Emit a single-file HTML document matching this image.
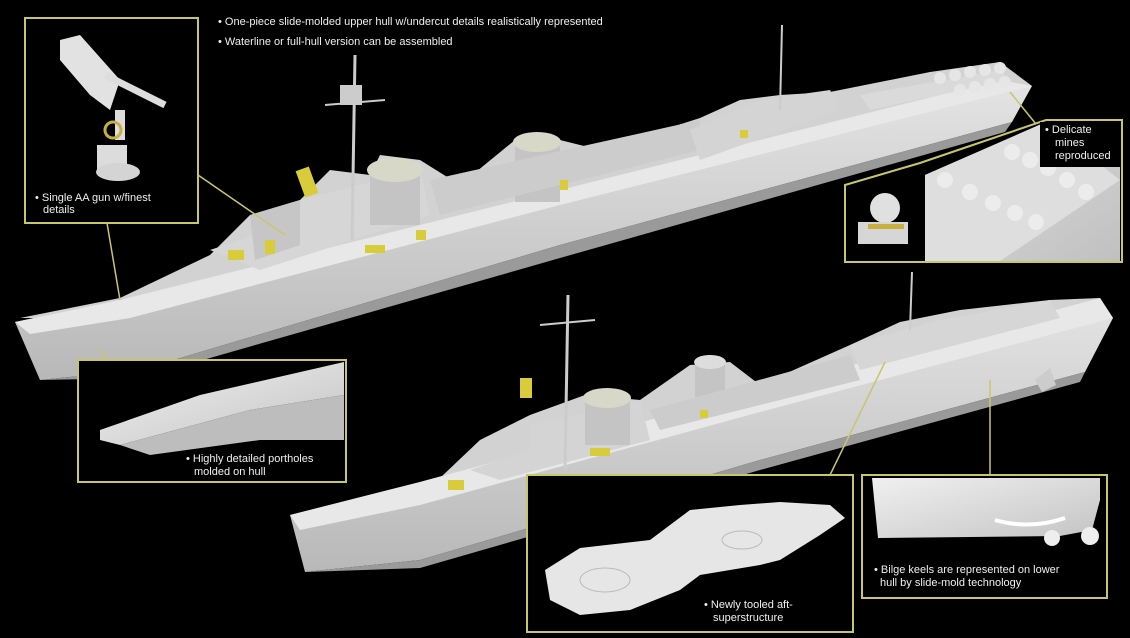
<!DOCTYPE html>
<html><head><meta charset="utf-8"><style>
html,body{margin:0;padding:0;background:#000;}
svg{display:block}
text{font-family:"Liberation Sans",sans-serif;fill:#f0f0f0;font-size:11px}
</style></head><body>
<svg width="1130" height="638" viewBox="0 0 1130 638" xmlns="http://www.w3.org/2000/svg">
<defs>
<linearGradient id="hull" x1="0" y1="0" x2="0" y2="1">
<stop offset="0" stop-color="#e4e4e4"/><stop offset="1" stop-color="#b8b8b8"/>
</linearGradient>
<linearGradient id="hull2" x1="0" y1="0" x2="1" y2="1">
<stop offset="0" stop-color="#f0f0f0"/><stop offset="1" stop-color="#c4c4c4"/>
</linearGradient>
<linearGradient id="deck" x1="0" y1="0" x2="1" y2="1">
<stop offset="0" stop-color="#e0e0e0"/><stop offset="1" stop-color="#c0c0c0"/>
</linearGradient>
</defs>
<rect width="1130" height="638" fill="#000"/>

<text x="218" y="25">• One-piece slide-molded upper hull w/undercut details realistically represented</text>
<text x="218" y="45">• Waterline or full-hull version can be assembled</text>

<!-- TOP SHIP -->
<g>
<polygon points="20,318 120,298 210,255 250,215 300,200 330,170 370,175 380,155 420,160 460,185 515,140 560,140 600,150 700,118 740,100 780,95 830,92 930,72 1000,62 1032,86 560,205 130,318" fill="#d2d2d2"/>
<polygon points="15,322 120,300 560,190 1000,80 1032,86 1012,122 560,245 140,370 40,380" fill="url(#hull)"/>
<polygon points="15,322 120,300 560,190 1000,80 1032,86 560,205 130,318 30,334" fill="#e8e8e8"/>
<polygon points="40,380 140,370 560,245 1012,122 1005,132 560,258 140,378" fill="#9a9a9a"/>
<polygon points="210,250 300,220 300,200 420,170 430,215 260,270" fill="#d6d6d6"/>
<polygon points="250,215 300,200 300,245 255,260" fill="#c6c6c6"/>
<rect x="370" y="165" width="50" height="60" fill="#c4c4c4"/>
<ellipse cx="395" cy="170" rx="28" ry="12" fill="#d8d8c8"/>
<rect x="515" y="140" width="45" height="62" fill="#c4c4c4"/>
<ellipse cx="537" cy="142" rx="24" ry="10" fill="#d8d8c8"/>
<polygon points="430,180 700,120 700,150 440,215" fill="#cccccc"/>
<polygon points="690,130 760,100 830,90 840,110 700,160" fill="#d4d4d4"/>
<polygon points="860,95 1000,70 1010,80 870,110" fill="#dadada"/>
<line x1="352" y1="240" x2="355" y2="55" stroke="#ccc" stroke-width="3"/>
<line x1="325" y1="105" x2="385" y2="100" stroke="#ccc" stroke-width="2"/>
<line x1="780" y1="110" x2="782" y2="25" stroke="#ccc" stroke-width="2"/>
<rect x="340" y="85" width="22" height="20" fill="#ccc"/>
<g fill="#d9cc3a">
<rect x="300" y="168" width="14" height="28" transform="rotate(-20 307 182)"/>
<rect x="228" y="250" width="16" height="10"/><rect x="265" y="240" width="10" height="14"/>
<rect x="365" y="245" width="20" height="8"/><rect x="416" y="230" width="10" height="10"/>
<rect x="560" y="180" width="8" height="10"/><rect x="740" y="130" width="8" height="8"/>
</g>
<g fill="#e6e6e6">
<circle cx="940" cy="78" r="6"/><circle cx="955" cy="75" r="6"/><circle cx="970" cy="72" r="6"/><circle cx="985" cy="70" r="6"/><circle cx="1000" cy="68" r="6"/>
<circle cx="960" cy="90" r="6"/><circle cx="975" cy="87" r="6"/><circle cx="990" cy="84" r="6"/><circle cx="1005" cy="82" r="6"/>
</g>
</g>

<!-- BOTTOM SHIP -->
<g>
<polygon points="295,515 440,478 480,440 530,415 585,395 640,400 690,365 730,362 760,385 850,345 900,322 960,310 1050,300 1100,298 1110,318 760,412 420,505" fill="#d2d2d2"/>
<polygon points="290,515 420,482 760,390 1100,298 1113,318 1085,372 760,460 420,560 305,572" fill="url(#hull)"/>
<polygon points="290,515 420,482 760,390 1100,298 1113,318 760,412 420,505 300,530" fill="#e8e8e8"/>
<polygon points="305,572 420,560 760,460 1085,372 1080,382 760,470 420,568" fill="#9a9a9a"/>
<polygon points="470,470 530,450 530,425 640,400 650,440 500,480" fill="#d4d4d4"/>
<rect x="585" y="395" width="45" height="50" fill="#c4c4c4"/>
<ellipse cx="607" cy="398" rx="24" ry="10" fill="#d8d8c8"/>
<rect x="695" y="360" width="30" height="45" fill="#c4c4c4"/>
<ellipse cx="710" cy="362" rx="16" ry="7" fill="#ddd"/>
<polygon points="650,410 850,355 860,380 660,430" fill="#cccccc"/>
<polygon points="850,345 940,320 1050,300 1060,318 860,370" fill="#d6d6d6"/>
<line x1="565" y1="470" x2="568" y2="295" stroke="#ccc" stroke-width="3"/>
<line x1="540" y1="325" x2="595" y2="320" stroke="#ccc" stroke-width="2"/>
<line x1="910" y1="330" x2="912" y2="272" stroke="#ccc" stroke-width="2"/>
<g fill="#d9cc3a">
<rect x="520" y="378" width="12" height="20"/><rect x="448" y="480" width="16" height="10"/>
<rect x="590" y="448" width="20" height="8"/><rect x="700" y="410" width="8" height="8"/>
</g>
<polygon points="1035,380 1050,368 1056,385 1042,392" fill="#ccc"/>
</g>

<g stroke="#c9c66a" stroke-width="1.5" fill="none">
<line x1="198" y1="175" x2="285" y2="235"/>
<line x1="107" y1="223" x2="120" y2="300"/>
<line x1="100" y1="350" x2="125" y2="384"/>
<line x1="1010" y1="92" x2="1036" y2="124"/>
<line x1="885" y1="362" x2="830" y2="475"/>
<line x1="527" y1="538" x2="773" y2="475"/>
<line x1="990" y1="380" x2="990" y2="475"/>
</g>

<!-- AA gun box -->
<rect x="25" y="18" width="173" height="205" fill="#000" stroke="#c9c66a" stroke-width="2"/>
<polygon points="60,40 80,35 120,80 110,110 90,95 60,60" fill="#e2e2e2"/>
<line x1="105" y1="75" x2="165" y2="105" stroke="#ddd" stroke-width="7"/>
<rect x="115" y="110" width="10" height="30" fill="#ddd"/>
<circle cx="113" cy="130" r="8" fill="none" stroke="#c7b040" stroke-width="3"/>
<rect x="97" y="145" width="30" height="25" fill="#dcdcdc"/>
<ellipse cx="118" cy="172" rx="22" ry="9" fill="#d4d4d4"/>
<text x="35" y="201">• Single AA gun w/finest</text>
<text x="43" y="213">details</text>

<!-- mines box -->
<polygon points="845,185 920,163 1046,120 1122,120 1122,262 845,262" fill="#000" stroke="#c9c66a" stroke-width="2"/>
<polygon points="925,175 1046,122 1120,122 1120,261 925,261" fill="url(#deck)"/>
<polygon points="925,175 1046,122 1120,180 1000,261 925,261" fill="#dedede"/>
<g fill="#ececec">
<circle cx="1012" cy="152" r="8"/><circle cx="1030" cy="160" r="8"/><circle cx="1048" cy="168" r="8"/><circle cx="1067" cy="180" r="8"/><circle cx="1086" cy="192" r="8"/>
<circle cx="945" cy="180" r="8"/><circle cx="970" cy="192" r="8"/><circle cx="993" cy="203" r="8"/><circle cx="1015" cy="213" r="8"/><circle cx="1036" cy="222" r="8"/>
</g>
<circle cx="885" cy="208" r="15" fill="#e0e0e0"/>
<rect x="858" y="222" width="50" height="22" fill="#d6d6d6"/>
<rect x="868" y="224" width="36" height="5" fill="#c7b040"/>
<rect x="1040" y="122" width="80" height="45" fill="#000"/>
<text x="1045" y="133">• Delicate</text>
<text x="1055" y="146">mines</text>
<text x="1055" y="159">reproduced</text>

<!-- portholes box -->
<rect x="78" y="360" width="268" height="122" fill="#000" stroke="#c9c66a" stroke-width="2"/>
<polygon points="100,430 200,395 344,362 344,395 250,410 120,445 100,440" fill="url(#hull2)"/>
<polygon points="120,445 250,410 344,395 344,440 260,440 150,455" fill="#bdbdbd"/>
<text x="186" y="462">• Highly detailed portholes</text>
<text x="194" y="475">molded on hull</text>

<!-- aft superstructure box -->
<rect x="527" y="475" width="326" height="157" fill="#000" stroke="#c9c66a" stroke-width="2"/>
<polygon points="545,570 580,548 650,540 690,510 740,505 780,502 830,505 845,518 820,535 780,560 760,565 700,575 680,590 630,610 580,615 550,600" fill="#e6e6e6"/>
<ellipse cx="605" cy="580" rx="25" ry="12" fill="none" stroke="#bbb"/>
<ellipse cx="742" cy="540" rx="20" ry="9" fill="none" stroke="#bbb"/>
<text x="704" y="608">• Newly tooled aft-</text>
<text x="713" y="621">superstructure</text>

<!-- bilge box -->
<rect x="862" y="475" width="245" height="123" fill="#000" stroke="#c9c66a" stroke-width="2"/>
<polygon points="872,478 1100,478 1100,500 1092,530 1060,536 878,538" fill="url(#hull2)"/>
<path d="M995,520 Q1030,530 1065,518" stroke="#fff" stroke-width="4" fill="none"/>
<circle cx="1052" cy="538" r="8" fill="#eee"/><circle cx="1090" cy="536" r="9" fill="#eee"/>
<text x="874" y="573">• Bilge keels are represented on lower</text>
<text x="880" y="586">hull by slide-mold technology</text>
</svg>
</body></html>
